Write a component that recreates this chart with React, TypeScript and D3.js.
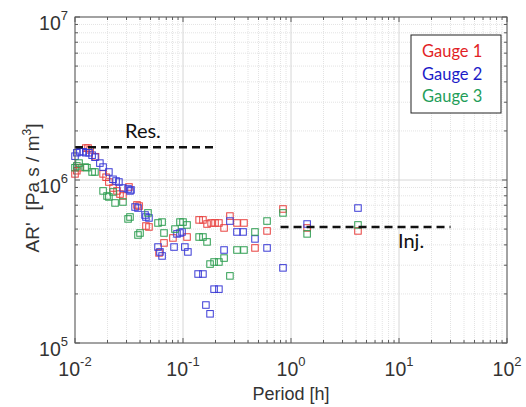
import React from "react";
import * as d3 from "d3";

// Gauge 1 (red)
const periodG1 = [0.0100, 0.0104, 0.0111, 0.0126, 0.0132, 0.0138, 0.0155, 0.0182, 0.0194, 0.0206, 0.0225, 0.0245, 0.0261, 0.0278, 0.0316, 0.0375, 0.0392, 0.0454, 0.0484, 0.0600, 0.0667, 0.0807, 0.109, 0.141, 0.153, 0.167, 0.182, 0.198, 0.215, 0.240, 0.272, 0.316, 0.367, 0.464, 0.600, 0.843, 1.41, 4.17];
const arG1 = [1.09e6, 1.14e6, 1.19e6, 1.57e6, 1.57e6, 1.53e6, 1.39e6, 1.09e6, 1.04e6, 9.72e5, 8.93e5, 8.57e5, 8.20e5, 7.98e5, 9.06e5, 7.03e5, 6.92e5, 5.22e5, 5.15e5, 3.57e5, 4.11e5, 4.41e5, 4.47e5, 5.69e5, 5.69e5, 5.37e5, 5.45e5, 5.45e5, 5.45e5, 5.08e5, 6.01e5, 5.45e5, 5.45e5, 3.83e5, 4.87e5, 6.64e5, 5.08e5, 4.87e5];

// Gauge 2 (blue)
const periodG2 = [0.0100, 0.0104, 0.0111, 0.0119, 0.0126, 0.0135, 0.0144, 0.0153, 0.0170, 0.0182, 0.0206, 0.0225, 0.0240, 0.0255, 0.0278, 0.0310, 0.0323, 0.0330, 0.0360, 0.0383, 0.0445, 0.0454, 0.0484, 0.0587, 0.0612, 0.0640, 0.0826, 0.0880, 0.0938, 0.0979, 0.104, 0.111, 0.138, 0.153, 0.163, 0.178, 0.194, 0.215, 0.240, 0.272, 0.316, 0.360, 0.464, 0.600, 0.843, 1.41, 4.17];
const arG2 = [1.40e6, 1.47e6, 1.49e6, 1.49e6, 1.47e6, 1.47e6, 1.42e6, 1.38e6, 1.27e6, 1.20e6, 1.12e6, 1.01e6, 9.86e5, 9.72e5, 8.93e5, 8.81e5, 8.57e5, 8.69e5, 6.83e5, 6.73e5, 6.10e5, 5.93e5, 5.85e5, 3.88e5, 3.62e5, 3.42e5, 3.88e5, 4.67e5, 4.73e5, 4.80e5, 3.88e5, 3.62e5, 2.65e5, 2.65e5, 1.71e5, 1.51e5, 2.14e5, 2.14e5, 3.72e5, 5.60e5, 4.80e5, 4.80e5, 4.35e5, 3.83e5, 2.89e5, 5.37e5, 6.73e5];

// Gauge 3 (green)
const periodG3 = [0.0100, 0.0104, 0.0109, 0.0124, 0.0129, 0.0144, 0.0153, 0.0182, 0.0198, 0.0206, 0.0225, 0.0235, 0.0278, 0.0310, 0.0323, 0.0383, 0.0400, 0.0474, 0.0587, 0.0640, 0.0667, 0.0843, 0.0938, 0.1000, 0.109, 0.141, 0.153, 0.167, 0.178, 0.194, 0.215, 0.240, 0.272, 0.316, 0.367, 0.464, 0.600, 0.843, 1.41, 4.17];
const arG3 = [1.19e6, 1.22e6, 1.27e6, 1.20e6, 1.19e6, 1.12e6, 1.12e6, 8.57e5, 7.98e5, 7.87e5, 8.45e5, 7.23e5, 7.33e5, 5.77e5, 5.93e5, 4.60e5, 4.73e5, 6.28e5, 5.45e5, 5.52e5, 4.73e5, 5.00e5, 5.52e5, 5.52e5, 5.30e5, 4.47e5, 4.47e5, 4.17e5, 3.05e5, 3.14e5, 3.14e5, 3.32e5, 2.58e5, 3.72e5, 3.72e5, 4.80e5, 5.60e5, 6.28e5, 4.67e5, 5.30e5];

const seriesNames = ["Gauge 1", "Gauge 2", "Gauge 3"];
const seriesColors = ["#e8413f", "#3b3bd6", "#2f9e52"];
const legendColors = ["#e21f26", "#1c1cc8", "#1f9e5a"];

// Reference levels
const resPeriod = [0.01, 0.2];
const resValue = 1.59e6;
const injPeriod = [0.8, 30];
const injValue = 5.15e5;

const xTickExps = [-2, -1, 0, 1, 2];
const yTickExps = [5, 6, 7];

const W = 526, H = 407;
const L = 75, R = 507, T = 17, B = 343;

export default function App() {
  const x = d3.scaleLog().domain([0.01, 100]).range([L, R]);
  const y = d3.scaleLog().domain([1e5, 1e7]).range([B, T]);

  const xMinor: number[] = [];
  for (let e = -2; e < 2; e++) for (let m = 2; m <= 9; m++) xMinor.push(m * Math.pow(10, e));
  const yMinor: number[] = [];
  for (let e = 5; e < 7; e++) for (let m = 2; m <= 9; m++) yMinor.push(m * Math.pow(10, e));
  const xMajor = xTickExps.map((e) => Math.pow(10, e));
  const yMajor = yTickExps.map((e) => Math.pow(10, e));

  const series = [
    { p: periodG1, v: arG1 },
    { p: periodG2, v: arG2 },
    { p: periodG3, v: arG3 },
  ];
  const ms = 6.5;
  const axisColor = "#5a5a5a";
  const font = "'Liberation Sans', Arial, sans-serif";
  const calibri = "Lato, 'Open Sans', sans-serif";

  return (
    <svg width={W} height={H} style={{ position: "absolute", left: 0, top: 0, background: "#fff" }}>
      <rect x={0} y={0} width={W} height={H} fill="#fff" />
      {/* minor grid */}
      {xMinor.map((v, i) => (
        <line key={"xm" + i} x1={x(v)} x2={x(v)} y1={T} y2={B} stroke="#e3e3e3" strokeWidth={1} strokeDasharray="1,1" />
      ))}
      {yMinor.map((v, i) => (
        <line key={"ym" + i} x1={L} x2={R} y1={y(v)} y2={y(v)} stroke="#e3e3e3" strokeWidth={1} strokeDasharray="1,1" />
      ))}
      {/* major grid */}
      {xMajor.map((v, i) => (
        <line key={"xM" + i} x1={x(v)} x2={x(v)} y1={T} y2={B} stroke="#d6d6d6" strokeWidth={1} />
      ))}
      {yMajor.map((v, i) => (
        <line key={"yM" + i} x1={L} x2={R} y1={y(v)} y2={y(v)} stroke="#d6d6d6" strokeWidth={1} />
      ))}

      {/* data */}
      {series.map((s, si) =>
        s.p.map((p, i) => (
          <rect
            key={si + "-" + i}
            x={x(p) - ms / 2}
            y={y(s.v[i]) - ms / 2}
            width={ms}
            height={ms}
            fill="none"
            stroke={seriesColors[si]}
            strokeWidth={1}
          />
        ))
      )}

      {/* reference lines */}
      <line x1={x(resPeriod[0])} x2={x(resPeriod[1])} y1={y(resValue)} y2={y(resValue)} stroke="#111" strokeWidth={2.5} strokeDasharray="8,5" />
      <line x1={x(injPeriod[0])} x2={x(injPeriod[1])} y1={y(injValue)} y2={y(injValue)} stroke="#111" strokeWidth={2.5} strokeDasharray="8,5" />
      <text x={125} y={138} fontFamily={calibri} fontSize={20} fill="#111">Res.</text>
      <text x={398} y={248} fontFamily={calibri} fontSize={20} fill="#111">Inj.</text>

      {/* axes box */}
      <rect x={L} y={T} width={R - L} height={B - T} fill="none" stroke={axisColor} strokeWidth={1} />
      {/* ticks */}
      {xMinor.map((v, i) => (
        <g key={"xt" + i}>
          <line x1={x(v)} x2={x(v)} y1={B} y2={B - 3} stroke={axisColor} />
          <line x1={x(v)} x2={x(v)} y1={T} y2={T + 3} stroke={axisColor} />
        </g>
      ))}
      {yMinor.map((v, i) => (
        <g key={"yt" + i}>
          <line x1={L} x2={L + 3} y1={y(v)} y2={y(v)} stroke={axisColor} />
          <line x1={R} x2={R - 3} y1={y(v)} y2={y(v)} stroke={axisColor} />
        </g>
      ))}
      {xMajor.map((v, i) => (
        <g key={"xT" + i}>
          <line x1={x(v)} x2={x(v)} y1={B} y2={B - 5} stroke={axisColor} />
          <line x1={x(v)} x2={x(v)} y1={T} y2={T + 5} stroke={axisColor} />
        </g>
      ))}
      {yMajor.map((v, i) => (
        <g key={"yT" + i}>
          <line x1={L} x2={L + 5} y1={y(v)} y2={y(v)} stroke={axisColor} />
          <line x1={R} x2={R - 5} y1={y(v)} y2={y(v)} stroke={axisColor} />
        </g>
      ))}

      {/* x tick labels */}
      {xTickExps.map((e, i) => (
        <text key={"xl" + i} x={x(Math.pow(10, e))} y={376} textAnchor="middle" fontFamily={font} fontSize={19.5} fill="#333">
          10<tspan dy={-10} fontSize={13}>{e < 0 ? "-" + Math.abs(e) : String(e)}</tspan>
        </text>
      ))}
      {/* y tick labels */}
      {yTickExps.map((e, i) => (
        <text key={"yl" + i} x={68} y={y(Math.pow(10, e)) + 13} textAnchor="end" fontFamily={font} fontSize={19.5} fill="#333">
          10<tspan dy={-10} fontSize={13}>{String(e)}</tspan>
        </text>
      ))}

      {/* axis labels */}
      <text x={291} y={400} textAnchor="middle" fontFamily={font} fontSize={18} fill="#333">Period [h]</text>
      <text transform={`translate(39,188) rotate(-90)`} textAnchor="middle" fontFamily={font} fontSize={19} fill="#333">
        AR'<tspan dx={12}>[Pa s / m</tspan><tspan dy={-8} fontSize={12}>3</tspan><tspan dy={8}>]</tspan>
      </text>

      {/* legend */}
      <rect x={411} y={35} width={90} height={78} fill="#fff" stroke="#222" strokeWidth={1} />
      {seriesNames.map((n, i) => (
        <text key={"lg" + i} x={422} y={57 + i * 22.5} fontFamily={calibri} fontSize={16.5} fill={legendColors[i]}>{n}</text>
      ))}
    </svg>
  );
}
